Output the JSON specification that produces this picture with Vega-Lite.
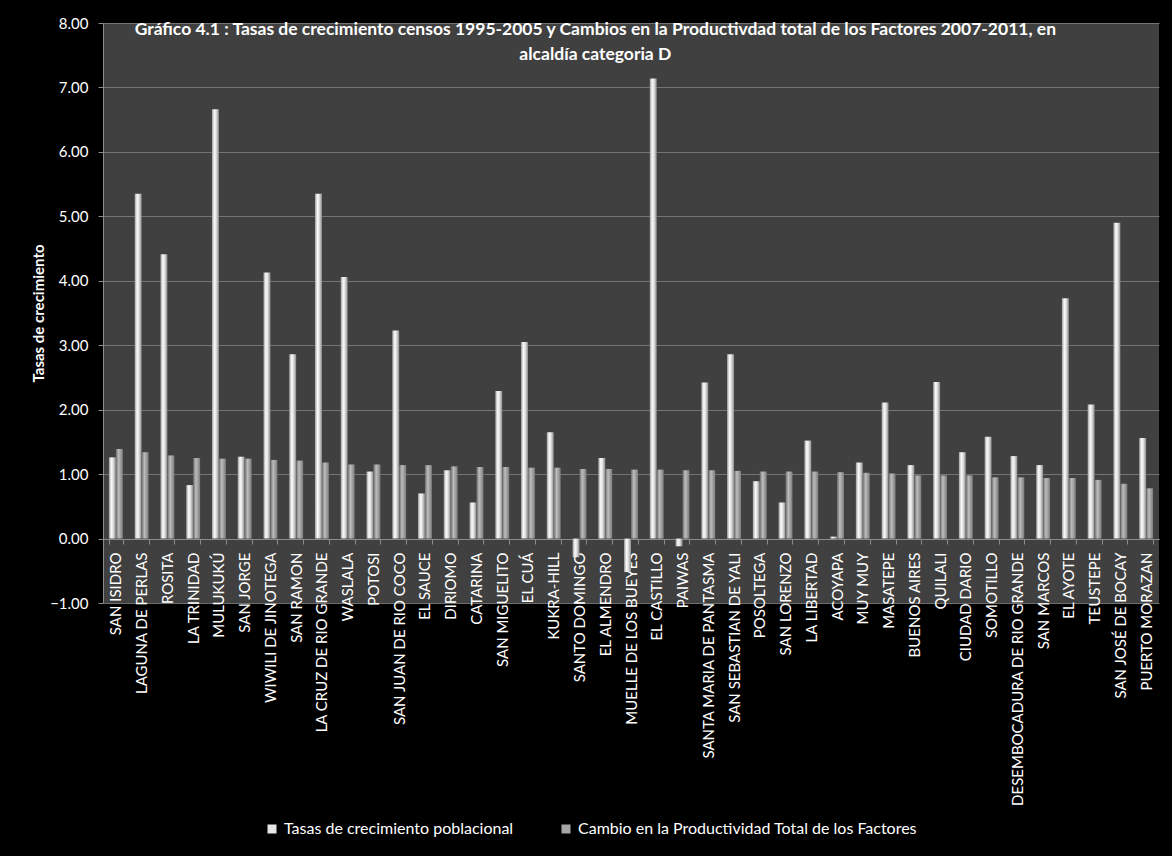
{
  "$schema": "https://vega.github.io/schema/vega-lite/v6.json",
  "autosize": {"type": "none"},
  "padding": {"left": 103, "top": 23, "right": 13, "bottom": 253},
  "width": 1056,
  "height": 580,
  "background": "black",
  "title": {
    "text": ["Gráfico 4.1 : Tasas de crecimiento censos 1995-2005 y Cambios en la Productivdad total de los Factores  2007-2011, en", "alcaldía categoria D"],
    "color": "white",
    "font": "Lato",
    "fontSize": 17.5,
    "fontWeight": "bold",
    "lineHeight": 25,
    "anchor": "middle",
    "frame": "bounds",
    "offset": -47
  },
  "config": {
    "view": {"fill": "#404040", "stroke": null},
    "axis": {"labelColor": "white", "titleColor": "white", "labelFont": "Lato", "titleFont": "Lato"}
  },
  "data": {
    "values": [
      {"m": "SAN ISIDRO", "s": "Tasas de crecimiento poblacional", "v": 1.26},
      {"m": "SAN ISIDRO", "s": "Cambio en la Productividad Total de los Factores", "v": 1.39},
      {"m": "LAGUNA DE PERLAS", "s": "Tasas de crecimiento poblacional", "v": 5.35},
      {"m": "LAGUNA DE PERLAS", "s": "Cambio en la Productividad Total de los Factores", "v": 1.34},
      {"m": "ROSITA", "s": "Tasas de crecimiento poblacional", "v": 4.41},
      {"m": "ROSITA", "s": "Cambio en la Productividad Total de los Factores", "v": 1.29},
      {"m": "LA TRINIDAD", "s": "Tasas de crecimiento poblacional", "v": 0.83},
      {"m": "LA TRINIDAD", "s": "Cambio en la Productividad Total de los Factores", "v": 1.25},
      {"m": "MULUKUKÚ", "s": "Tasas de crecimiento poblacional", "v": 6.66},
      {"m": "MULUKUKÚ", "s": "Cambio en la Productividad Total de los Factores", "v": 1.24},
      {"m": "SAN JORGE", "s": "Tasas de crecimiento poblacional", "v": 1.27},
      {"m": "SAN JORGE", "s": "Cambio en la Productividad Total de los Factores", "v": 1.24},
      {"m": "WIWILI DE JINOTEGA", "s": "Tasas de crecimiento poblacional", "v": 4.13},
      {"m": "WIWILI DE JINOTEGA", "s": "Cambio en la Productividad Total de los Factores", "v": 1.22},
      {"m": "SAN RAMON", "s": "Tasas de crecimiento poblacional", "v": 2.86},
      {"m": "SAN RAMON", "s": "Cambio en la Productividad Total de los Factores", "v": 1.21},
      {"m": "LA CRUZ DE RIO GRANDE", "s": "Tasas de crecimiento poblacional", "v": 5.35},
      {"m": "LA CRUZ DE RIO GRANDE", "s": "Cambio en la Productividad Total de los Factores", "v": 1.18},
      {"m": "WASLALA", "s": "Tasas de crecimiento poblacional", "v": 4.06},
      {"m": "WASLALA", "s": "Cambio en la Productividad Total de los Factores", "v": 1.15},
      {"m": "POTOSI", "s": "Tasas de crecimiento poblacional", "v": 1.04},
      {"m": "POTOSI", "s": "Cambio en la Productividad Total de los Factores", "v": 1.15},
      {"m": "SAN JUAN DE RIO COCO", "s": "Tasas de crecimiento poblacional", "v": 3.23},
      {"m": "SAN JUAN DE RIO COCO", "s": "Cambio en la Productividad Total de los Factores", "v": 1.14},
      {"m": "EL SAUCE", "s": "Tasas de crecimiento poblacional", "v": 0.70},
      {"m": "EL SAUCE", "s": "Cambio en la Productividad Total de los Factores", "v": 1.14},
      {"m": "DIRIOMO", "s": "Tasas de crecimiento poblacional", "v": 1.06},
      {"m": "DIRIOMO", "s": "Cambio en la Productividad Total de los Factores", "v": 1.12},
      {"m": "CATARINA", "s": "Tasas de crecimiento poblacional", "v": 0.56},
      {"m": "CATARINA", "s": "Cambio en la Productividad Total de los Factores", "v": 1.11},
      {"m": "SAN MIGUELITO", "s": "Tasas de crecimiento poblacional", "v": 2.29},
      {"m": "SAN MIGUELITO", "s": "Cambio en la Productividad Total de los Factores", "v": 1.11},
      {"m": "EL CUÁ", "s": "Tasas de crecimiento poblacional", "v": 3.05},
      {"m": "EL CUÁ", "s": "Cambio en la Productividad Total de los Factores", "v": 1.10},
      {"m": "KUKRA-HILL", "s": "Tasas de crecimiento poblacional", "v": 1.65},
      {"m": "KUKRA-HILL", "s": "Cambio en la Productividad Total de los Factores", "v": 1.10},
      {"m": "SANTO DOMINGO", "s": "Tasas de crecimiento poblacional", "v": -0.29},
      {"m": "SANTO DOMINGO", "s": "Cambio en la Productividad Total de los Factores", "v": 1.08},
      {"m": "EL ALMENDRO", "s": "Tasas de crecimiento poblacional", "v": 1.25},
      {"m": "EL ALMENDRO", "s": "Cambio en la Productividad Total de los Factores", "v": 1.08},
      {"m": "MUELLE DE LOS BUEYES", "s": "Tasas de crecimiento poblacional", "v": -0.52},
      {"m": "MUELLE DE LOS BUEYES", "s": "Cambio en la Productividad Total de los Factores", "v": 1.07},
      {"m": "EL CASTILLO", "s": "Tasas de crecimiento poblacional", "v": 7.14},
      {"m": "EL CASTILLO", "s": "Cambio en la Productividad Total de los Factores", "v": 1.07},
      {"m": "PAIWAS", "s": "Tasas de crecimiento poblacional", "v": -0.12},
      {"m": "PAIWAS", "s": "Cambio en la Productividad Total de los Factores", "v": 1.06},
      {"m": "SANTA MARIA DE PANTASMA", "s": "Tasas de crecimiento poblacional", "v": 2.42},
      {"m": "SANTA MARIA DE PANTASMA", "s": "Cambio en la Productividad Total de los Factores", "v": 1.06},
      {"m": "SAN SEBASTIAN DE YALI", "s": "Tasas de crecimiento poblacional", "v": 2.86},
      {"m": "SAN SEBASTIAN DE YALI", "s": "Cambio en la Productividad Total de los Factores", "v": 1.05},
      {"m": "POSOLTEGA", "s": "Tasas de crecimiento poblacional", "v": 0.89},
      {"m": "POSOLTEGA", "s": "Cambio en la Productividad Total de los Factores", "v": 1.04},
      {"m": "SAN LORENZO", "s": "Tasas de crecimiento poblacional", "v": 0.56},
      {"m": "SAN LORENZO", "s": "Cambio en la Productividad Total de los Factores", "v": 1.04},
      {"m": "LA LIBERTAD", "s": "Tasas de crecimiento poblacional", "v": 1.52},
      {"m": "LA LIBERTAD", "s": "Cambio en la Productividad Total de los Factores", "v": 1.04},
      {"m": "ACOYAPA", "s": "Tasas de crecimiento poblacional", "v": 0.03},
      {"m": "ACOYAPA", "s": "Cambio en la Productividad Total de los Factores", "v": 1.03},
      {"m": "MUY MUY", "s": "Tasas de crecimiento poblacional", "v": 1.18},
      {"m": "MUY MUY", "s": "Cambio en la Productividad Total de los Factores", "v": 1.02},
      {"m": "MASATEPE", "s": "Tasas de crecimiento poblacional", "v": 2.11},
      {"m": "MASATEPE", "s": "Cambio en la Productividad Total de los Factores", "v": 1.01},
      {"m": "BUENOS AIRES", "s": "Tasas de crecimiento poblacional", "v": 1.14},
      {"m": "BUENOS AIRES", "s": "Cambio en la Productividad Total de los Factores", "v": 0.98},
      {"m": "QUILALI", "s": "Tasas de crecimiento poblacional", "v": 2.43},
      {"m": "QUILALI", "s": "Cambio en la Productividad Total de los Factores", "v": 0.98},
      {"m": "CIUDAD DARIO", "s": "Tasas de crecimiento poblacional", "v": 1.34},
      {"m": "CIUDAD DARIO", "s": "Cambio en la Productividad Total de los Factores", "v": 0.98},
      {"m": "SOMOTILLO", "s": "Tasas de crecimiento poblacional", "v": 1.58},
      {"m": "SOMOTILLO", "s": "Cambio en la Productividad Total de los Factores", "v": 0.95},
      {"m": "DESEMBOCADURA DE RIO GRANDE", "s": "Tasas de crecimiento poblacional", "v": 1.28},
      {"m": "DESEMBOCADURA DE RIO GRANDE", "s": "Cambio en la Productividad Total de los Factores", "v": 0.95},
      {"m": "SAN MARCOS", "s": "Tasas de crecimiento poblacional", "v": 1.14},
      {"m": "SAN MARCOS", "s": "Cambio en la Productividad Total de los Factores", "v": 0.94},
      {"m": "EL AYOTE", "s": "Tasas de crecimiento poblacional", "v": 3.73},
      {"m": "EL AYOTE", "s": "Cambio en la Productividad Total de los Factores", "v": 0.94},
      {"m": "TEUSTEPE", "s": "Tasas de crecimiento poblacional", "v": 2.08},
      {"m": "TEUSTEPE", "s": "Cambio en la Productividad Total de los Factores", "v": 0.91},
      {"m": "SAN JOSÉ DE BOCAY", "s": "Tasas de crecimiento poblacional", "v": 4.90},
      {"m": "SAN JOSÉ DE BOCAY", "s": "Cambio en la Productividad Total de los Factores", "v": 0.85},
      {"m": "PUERTO MORAZAN", "s": "Tasas de crecimiento poblacional", "v": 1.56},
      {"m": "PUERTO MORAZAN", "s": "Cambio en la Productividad Total de los Factores", "v": 0.78}
    ]
  },
  "encoding": {
    "x": {
      "field": "m", "type": "nominal", "sort": null,
      "scale": {"paddingInner": 0.46, "paddingOuter": 0.23},
      "axis": {
        "title": null, "offset": -64, "labelAngle": -90, "labelFontSize": 15, "labelPadding": 8,
        "tickBand": "extent", "tickSize": 5, "tickColor": "#8c8c8c", "domainColor": "#8c8c8c",
        "grid": false, "labelLimit": 400
      }
    },
    "xOffset": {
      "field": "s", "type": "nominal",
      "scale": {"domain": ["Tasas de crecimiento poblacional", "Cambio en la Productividad Total de los Factores"], "paddingInner": 0, "paddingOuter": 0}
    },
    "y": {
      "field": "v", "type": "quantitative",
      "scale": {"domain": [-1, 8], "nice": false, "zero": false},
      "axis": {
        "title": "Tasas de crecimiento", "titleFontSize": 15, "titleFontWeight": "bold", "titlePadding": 3,
        "values": [-1, 0, 1, 2, 3, 4, 5, 6, 7, 8], "format": ".2f", "labelFontSize": 15, "labelPadding": 10,
        "tickSize": 5, "tickColor": "#8c8c8c", "domainColor": "#8c8c8c", "gridColor": "#7a7a7a", "gridOpacity": 0.9
      }
    }
  },
  "layer": [
    {
      "transform": [{"filter": "datum.s === 'Tasas de crecimiento poblacional'"}],
      "mark": {
        "type": "bar", "strokeWidth": 0,
        "fill": {"gradient": "linear", "x1": 0, "y1": 0, "x2": 1, "y2": 0, "stops": [{"offset": 0, "color": "#9c9c9c"}, {"offset": 0.35, "color": "#fafafa"}, {"offset": 0.6, "color": "#e2e2e2"}, {"offset": 1, "color": "#8c8c8c"}]}
      }
    },
    {
      "transform": [{"filter": "datum.s === 'Cambio en la Productividad Total de los Factores'"}],
      "mark": {
        "type": "bar", "strokeWidth": 0,
        "fill": {"gradient": "linear", "x1": 0, "y1": 0, "x2": 1, "y2": 0, "stops": [{"offset": 0, "color": "#6c6c6c"}, {"offset": 0.4, "color": "#bdbdbd"}, {"offset": 1, "color": "#7c7c7c"}]}
      }
    },
    {
      "mark": {"type": "square", "opacity": 0, "size": 1},
      "encoding": {
        "color": {
          "field": "s", "type": "nominal",
          "scale": {
            "domain": ["Tasas de crecimiento poblacional", "Cambio en la Productividad Total de los Factores"],
            "range": ["#e6e6e6", "#a6a6a6"]
          },
          "legend": {
            "title": null, "orient": "none", "direction": "horizontal", "legendX": 161, "legendY": 798,
            "symbolType": "square", "symbolSize": 81, "symbolStrokeWidth": 0, "symbolOpacity": 1, "labelColor": "white",
            "labelFont": "Lato", "labelFontSize": 16, "columnPadding": 44, "labelOffset": 4, "padding": 0, "labelLimit": 500
          }
        }
      }
    }
  ]
}
